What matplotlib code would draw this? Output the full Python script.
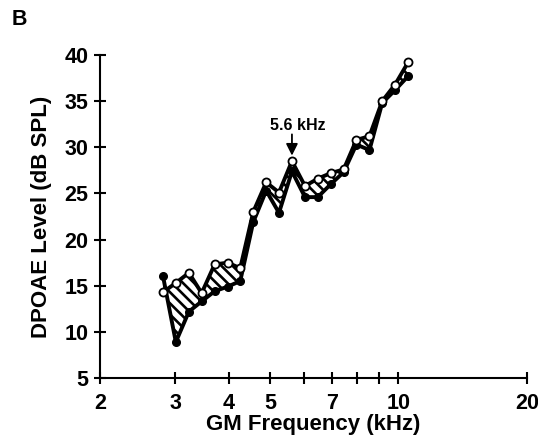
import numpy as np
import matplotlib
matplotlib.use("Agg")
import matplotlib.pyplot as plt
from matplotlib.ticker import FixedLocator, FixedFormatter, NullLocator

plt.rcParams['font.family'] = ['Liberation Sans', 'DejaVu Sans']
plt.rcParams['font.weight'] = 'bold'
plt.rcParams['hatch.linewidth'] = 1.9

# GM frequency (kHz) and DPOAE levels (dB SPL)
freq = [2.81, 3.01, 3.23, 3.46, 3.71, 3.98, 4.26, 4.57, 4.90, 5.25,
        5.63, 6.04, 6.47, 6.94, 7.44, 7.97, 8.55, 9.16, 9.82, 10.53]
level_open = [14.3, 15.3, 16.4, 14.2, 17.3, 17.5, 16.9, 23.0, 26.2, 25.1,
              28.5, 25.8, 26.6, 27.2, 27.6, 30.8, 31.2, 35.0, 36.8, 39.2]
level_filled = [16.0, 8.9, 12.2, 13.3, 14.4, 14.9, 15.5, 21.9, 25.3, 22.9,
                27.4, 24.6, 24.6, 26.0, 27.3, 30.3, 29.7, 34.8, 36.2, 37.7]

x_ticks = [2, 3, 4, 5, 6, 7, 8, 9, 10, 20]
x_labels = ['2', '3', '4', '5', '', '7', '', '', '10', '20']
y_ticks = [5, 10, 15, 20, 25, 30, 35, 40]

fig = plt.figure(figsize=(5.38, 4.4), dpi=100)
ax = fig.add_axes([0.1859, 0.1409, 0.7937, 0.7341])

# hatched area between the two curves
ax.fill_between(freq, level_open, level_filled, facecolor='white',
                edgecolor='black', hatch='\\\\\\', linewidth=0, zorder=1)

ax.plot(freq, level_filled, color='black', lw=2.8, zorder=2)
ax.plot(freq, level_open, color='black', lw=2.8, zorder=2)
ax.plot(freq, level_filled, 'o', color='black', ms=5.5, zorder=3)
ax.plot(freq, level_open, 'o', mfc='white', mec='black', mew=1.3, ms=5.8, zorder=4)

# arrow at 5.6 kHz
ax.annotate('', xy=(5.63, 29.1), xytext=(5.63, 31.4),
            arrowprops=dict(arrowstyle='-|>,head_length=0.7,head_width=0.35',
                            color='black', lw=1.3, shrinkA=0, shrinkB=0))
ax.text(5.8, 32.4, '5.6 kHz', ha='center', va='center', fontsize=11.5,
        fontweight='bold')

ax.set_xscale('log')
ax.set_xlim(2, 20)
ax.set_ylim(5, 40)
ax.xaxis.set_major_locator(FixedLocator(x_ticks))
ax.xaxis.set_major_formatter(FixedFormatter(x_labels))
ax.xaxis.set_minor_locator(NullLocator())
ax.set_yticks(y_ticks)

for side in ['top', 'right']:
    ax.spines[side].set_visible(False)
for side in ['left', 'bottom']:
    ax.spines[side].set_linewidth(1.5)

ax.tick_params(direction='inout', length=9, width=1.5, labelsize=15.5)
ax.tick_params(axis='x', pad=6)
ax.tick_params(axis='y', pad=4)

ax.set_xlabel('GM Frequency (kHz)', fontsize=16, fontweight='bold', labelpad=0)
ax.set_ylabel('DPOAE Level (dB SPL)', fontsize=16, fontweight='bold', labelpad=9)

fig.text(0.022, 0.955, 'B', fontsize=15.5, fontweight='bold', ha='left', va='center')

fig.savefig('out.png', dpi=100)
